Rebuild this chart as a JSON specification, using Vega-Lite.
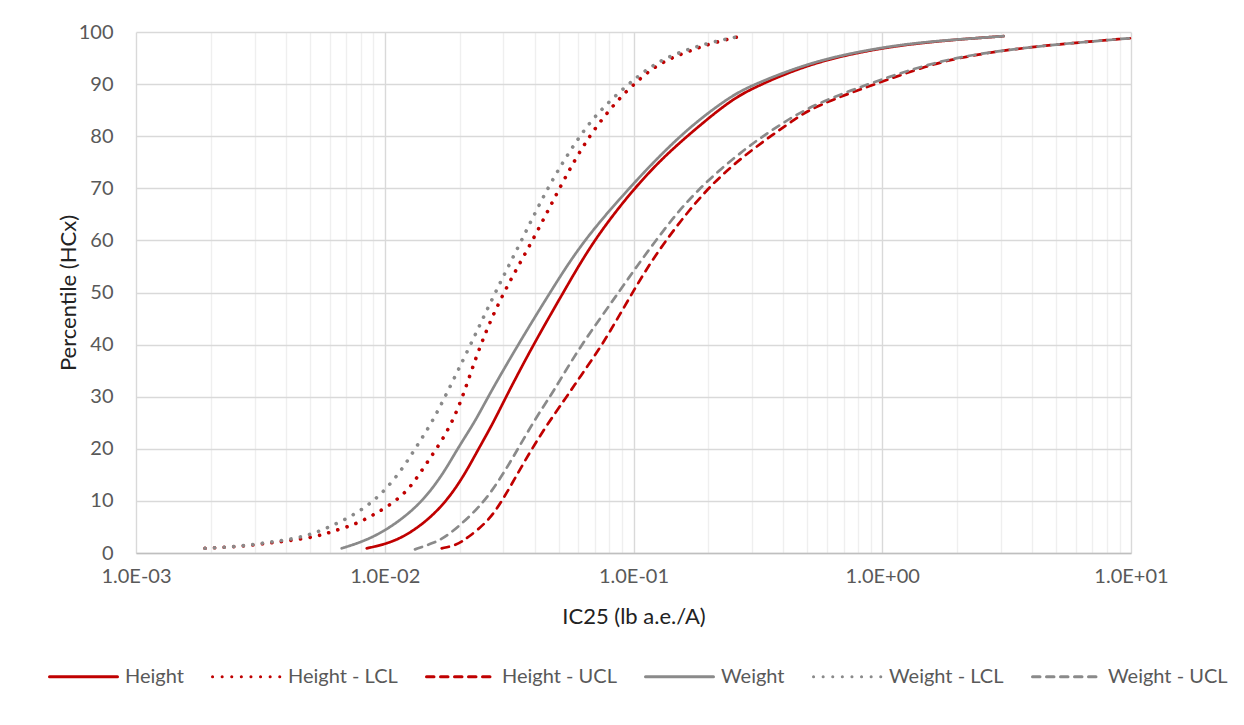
{
  "$schema": "https://vega.github.io/schema/vega-lite/v6.json",
  "width": 995,
  "height": 521,
  "autosize": {"type": "none"},
  "padding": {"left": 136, "top": 32, "right": 113, "bottom": 172},
  "background": "white",
  "config": {"font": "Lato", "view": {"stroke": null}},
  "data": {"values": [
    {"s": "Height", "x": 0.008462, "p": 0.9},
    {"s": "Height", "x": 0.010498, "p": 1.9},
    {"s": "Height", "x": 0.012633, "p": 3.8},
    {"s": "Height", "x": 0.0152, "p": 6.7},
    {"s": "Height", "x": 0.017791, "p": 10.1},
    {"s": "Height", "x": 0.020689, "p": 14.6},
    {"s": "Height", "x": 0.023706, "p": 19.8},
    {"s": "Height", "x": 0.027316, "p": 25},
    {"s": "Height", "x": 0.030724, "p": 30},
    {"s": "Height", "x": 0.039554, "p": 40},
    {"s": "Height", "x": 0.05221, "p": 50},
    {"s": "Height", "x": 0.068931, "p": 60},
    {"s": "Height", "x": 0.099538, "p": 69.8},
    {"s": "Height", "x": 0.13387, "p": 76.3},
    {"s": "Height", "x": 0.18169, "p": 81.8},
    {"s": "Height", "x": 0.24431, "p": 86.8},
    {"s": "Height", "x": 0.3079, "p": 89.5},
    {"s": "Height", "x": 0.53193, "p": 94.3},
    {"s": "Height", "x": 1.0, "p": 97.0},
    {"s": "Height", "x": 1.5095, "p": 98.0},
    {"s": "Height", "x": 2.054, "p": 98.6},
    {"s": "Height", "x": 3.0748, "p": 99.2},
    {"s": "Height - LCL", "x": 0.001894, "p": 0.9},
    {"s": "Height - LCL", "x": 0.002279, "p": 1.1},
    {"s": "Height - LCL", "x": 0.002743, "p": 1.35},
    {"s": "Height - LCL", "x": 0.003332, "p": 1.85},
    {"s": "Height - LCL", "x": 0.004036, "p": 2.3},
    {"s": "Height - LCL", "x": 0.005327, "p": 3.1},
    {"s": "Height - LCL", "x": 0.00641, "p": 4.4},
    {"s": "Height - LCL", "x": 0.007714, "p": 5.6},
    {"s": "Height - LCL", "x": 0.008995, "p": 7.3},
    {"s": "Height - LCL", "x": 0.010665, "p": 9.4},
    {"s": "Height - LCL", "x": 0.012436, "p": 12.1},
    {"s": "Height - LCL", "x": 0.013857, "p": 15.3},
    {"s": "Height - LCL", "x": 0.015299, "p": 18.4},
    {"s": "Height - LCL", "x": 0.016937, "p": 21.5},
    {"s": "Height - LCL", "x": 0.018583, "p": 25},
    {"s": "Height - LCL", "x": 0.020631, "p": 30},
    {"s": "Height - LCL", "x": 0.024149, "p": 40},
    {"s": "Height - LCL", "x": 0.029882, "p": 50},
    {"s": "Height - LCL", "x": 0.039444, "p": 60},
    {"s": "Height - LCL", "x": 0.05064, "p": 70.3},
    {"s": "Height - LCL", "x": 0.065628, "p": 80},
    {"s": "Height - LCL", "x": 0.088236, "p": 87.5},
    {"s": "Height - LCL", "x": 0.10234, "p": 90.3},
    {"s": "Height - LCL", "x": 0.11651, "p": 92.7},
    {"s": "Height - LCL", "x": 0.13802, "p": 94.8},
    {"s": "Height - LCL", "x": 0.16872, "p": 96.4},
    {"s": "Height - LCL", "x": 0.20685, "p": 97.9},
    {"s": "Height - LCL", "x": 0.27555, "p": 99.3},
    {"s": "Height - UCL", "x": 0.016937, "p": 0.9},
    {"s": "Height - UCL", "x": 0.019463, "p": 1.5},
    {"s": "Height - UCL", "x": 0.021351, "p": 2.8},
    {"s": "Height - UCL", "x": 0.026494, "p": 6.3},
    {"s": "Height - UCL", "x": 0.030923, "p": 11.5},
    {"s": "Height - UCL", "x": 0.036054, "p": 17.2},
    {"s": "Height - UCL", "x": 0.043386, "p": 23.6},
    {"s": "Height - UCL", "x": 0.05388, "p": 30},
    {"s": "Height - UCL", "x": 0.060947, "p": 33.8},
    {"s": "Height - UCL", "x": 0.073346, "p": 39.3},
    {"s": "Height - UCL", "x": 0.08503, "p": 44.5},
    {"s": "Height - UCL", "x": 0.09862, "p": 49.8},
    {"s": "Height - UCL", "x": 0.11437, "p": 55},
    {"s": "Height - UCL", "x": 0.13599, "p": 60.2},
    {"s": "Height - UCL", "x": 0.16365, "p": 65.2},
    {"s": "Height - UCL", "x": 0.19694, "p": 69.7},
    {"s": "Height - UCL", "x": 0.24431, "p": 74},
    {"s": "Height - UCL", "x": 0.30225, "p": 77.5},
    {"s": "Height - UCL", "x": 0.36039, "p": 80.2},
    {"s": "Height - UCL", "x": 0.42577, "p": 82.6},
    {"s": "Height - UCL", "x": 0.53193, "p": 85.8},
    {"s": "Height - UCL", "x": 1.0, "p": 90.5},
    {"s": "Height - UCL", "x": 1.5095, "p": 93.5},
    {"s": "Height - UCL", "x": 2.054, "p": 95.1},
    {"s": "Height - UCL", "x": 3.0748, "p": 96.5},
    {"s": "Height - UCL", "x": 5.1826, "p": 97.7},
    {"s": "Height - UCL", "x": 9.9, "p": 98.8},
    {"s": "Weight", "x": 0.006713, "p": 0.9},
    {"s": "Weight", "x": 0.008199, "p": 2.2},
    {"s": "Weight", "x": 0.009867, "p": 4.1},
    {"s": "Weight", "x": 0.011873, "p": 6.7},
    {"s": "Weight", "x": 0.014286, "p": 10.1},
    {"s": "Weight", "x": 0.01719, "p": 15.2},
    {"s": "Weight", "x": 0.019698, "p": 20.2},
    {"s": "Weight", "x": 0.023057, "p": 25.2},
    {"s": "Weight", "x": 0.026008, "p": 30},
    {"s": "Weight", "x": 0.03433, "p": 40},
    {"s": "Weight", "x": 0.046162, "p": 50},
    {"s": "Weight", "x": 0.062664, "p": 60},
    {"s": "Weight", "x": 0.099261, "p": 70.8},
    {"s": "Weight", "x": 0.1302, "p": 76.7},
    {"s": "Weight", "x": 0.17348, "p": 82.3},
    {"s": "Weight", "x": 0.24431, "p": 87.6},
    {"s": "Weight", "x": 0.30225, "p": 89.9},
    {"s": "Weight", "x": 0.53193, "p": 94.5},
    {"s": "Weight", "x": 1.0, "p": 97.1},
    {"s": "Weight", "x": 1.5095, "p": 98.1},
    {"s": "Weight", "x": 2.054, "p": 98.6},
    {"s": "Weight", "x": 3.0748, "p": 99.2},
    {"s": "Weight - LCL", "x": 0.001894, "p": 0.9},
    {"s": "Weight - LCL", "x": 0.002279, "p": 1.1},
    {"s": "Weight - LCL", "x": 0.002743, "p": 1.4},
    {"s": "Weight - LCL", "x": 0.003332, "p": 2.0},
    {"s": "Weight - LCL", "x": 0.004036, "p": 2.5},
    {"s": "Weight - LCL", "x": 0.004857, "p": 3.3},
    {"s": "Weight - LCL", "x": 0.005752, "p": 4.6},
    {"s": "Weight - LCL", "x": 0.006858, "p": 6.3},
    {"s": "Weight - LCL", "x": 0.008079, "p": 8.3},
    {"s": "Weight - LCL", "x": 0.008995, "p": 10},
    {"s": "Weight - LCL", "x": 0.010023, "p": 12.1},
    {"s": "Weight - LCL", "x": 0.011337, "p": 15.1},
    {"s": "Weight - LCL", "x": 0.012633, "p": 18.4},
    {"s": "Weight - LCL", "x": 0.013947, "p": 21.7},
    {"s": "Weight - LCL", "x": 0.015441, "p": 25},
    {"s": "Weight - LCL", "x": 0.017579, "p": 30.2},
    {"s": "Weight - LCL", "x": 0.022155, "p": 40},
    {"s": "Weight - LCL", "x": 0.027749, "p": 50},
    {"s": "Weight - LCL", "x": 0.035524, "p": 60},
    {"s": "Weight - LCL", "x": 0.045441, "p": 70.5},
    {"s": "Weight - LCL", "x": 0.060384, "p": 80},
    {"s": "Weight - LCL", "x": 0.073346, "p": 85},
    {"s": "Weight - LCL", "x": 0.09504, "p": 90},
    {"s": "Weight - LCL", "x": 0.113, "p": 92.8},
    {"s": "Weight - LCL", "x": 0.13178, "p": 94.8},
    {"s": "Weight - LCL", "x": 0.16365, "p": 96.6},
    {"s": "Weight - LCL", "x": 0.20305, "p": 98},
    {"s": "Weight - LCL", "x": 0.27555, "p": 99.3},
    {"s": "Weight - UCL", "x": 0.013231, "p": 0.7},
    {"s": "Weight - UCL", "x": 0.015672, "p": 1.9},
    {"s": "Weight - UCL", "x": 0.017742, "p": 3.1},
    {"s": "Weight - UCL", "x": 0.022697, "p": 7.6},
    {"s": "Weight - UCL", "x": 0.026494, "p": 11.3},
    {"s": "Weight - UCL", "x": 0.030923, "p": 16.3},
    {"s": "Weight - UCL", "x": 0.033919, "p": 19.6},
    {"s": "Weight - UCL", "x": 0.040819, "p": 26.2},
    {"s": "Weight - UCL", "x": 0.046895, "p": 30.5},
    {"s": "Weight - UCL", "x": 0.05064, "p": 33.2},
    {"s": "Weight - UCL", "x": 0.060947, "p": 39.5},
    {"s": "Weight - UCL", "x": 0.073346, "p": 45},
    {"s": "Weight - UCL", "x": 0.088236, "p": 50.4},
    {"s": "Weight - UCL", "x": 0.10301, "p": 55},
    {"s": "Weight - UCL", "x": 0.12396, "p": 60.2},
    {"s": "Weight - UCL", "x": 0.14917, "p": 65.2},
    {"s": "Weight - UCL", "x": 0.17951, "p": 69.4},
    {"s": "Weight - UCL", "x": 0.2227, "p": 73.6},
    {"s": "Weight - UCL", "x": 0.2807, "p": 77.5},
    {"s": "Weight - UCL", "x": 0.32251, "p": 79.6},
    {"s": "Weight - UCL", "x": 0.38804, "p": 82.2},
    {"s": "Weight - UCL", "x": 0.53193, "p": 86.2},
    {"s": "Weight - UCL", "x": 1.0, "p": 91.0},
    {"s": "Weight - UCL", "x": 1.5095, "p": 93.7},
    {"s": "Weight - UCL", "x": 2.054, "p": 95.2},
    {"s": "Weight - UCL", "x": 3.0748, "p": 96.5},
    {"s": "Weight - UCL", "x": 5.1826, "p": 97.7},
    {"s": "Weight - UCL", "x": 9.9, "p": 98.8}
  ]},
  "encoding": {
    "x": {
      "field": "x", "type": "quantitative",
      "scale": {"type": "log", "domain": [0.001, 10], "nice": false},
      "axis": {
        "values": [0.001,0.002,0.003,0.004,0.005,0.006,0.007,0.008,0.009,0.01,0.02,0.03,0.04,0.05,0.06,0.07,0.08,0.09,0.1,0.2,0.3,0.4,0.5,0.6,0.7,0.8,0.9,1,2,3,4,5,6,7,8,9,10],
        "grid": true,
        "gridColor": {"condition": {"test": "abs(log(datum.value)/LN10 - round(log(datum.value)/LN10)) < 0.001", "value": "#d9d9d9"}, "value": "#efefef"},
        "gridWidth": 1.4,
        "ticks": false,
        "domain": true,
        "domainColor": "#bfbfbf",
        "domainWidth": 1.6,
        "labelExpr": "abs(log(datum.value)/LN10 - round(log(datum.value)/LN10)) < 0.001 ? '1.0E' + (round(log(datum.value)/LN10) < 0 ? '-0' : '+0') + abs(round(log(datum.value)/LN10)) : ''",
        "labelOverlap": false,
        "labelFlush": false,
        "labelBound": false,
        "labelFontSize": 20,
        "labelColor": "#595959",
        "labelPadding": 13,
        "title": "IC25 (lb a.e./A)",
        "titleFontSize": 22,
        "titleFontWeight": "normal",
        "titleColor": "#222222",
        "titlePadding": 20
      }
    },
    "y": {
      "field": "p", "type": "quantitative",
      "scale": {"domain": [0, 100], "nice": false},
      "axis": {
        "values": [0,10,20,30,40,50,60,70,80,90,100],
        "grid": true,
        "gridColor": "#d9d9d9",
        "gridWidth": 1.4,
        "ticks": false,
        "domain": false,
        "labelFontSize": 20,
        "labelColor": "#595959",
        "labelPadding": 23,
        "title": "Percentile (HCx)",
        "titleFontSize": 22,
        "titleFontWeight": "normal",
        "titleColor": "#222222",
        "titlePadding": -2
      }
    },
    "color": {
      "field": "s", "type": "nominal",
      "scale": {"domain": ["Height", "Height - LCL", "Height - UCL", "Weight", "Weight - LCL", "Weight - UCL"], "range": ["#c00000", "#c00000", "#c00000", "#8a8a8a", "#8a8a8a", "#8a8a8a"]},
      "legend": {
        "orient": "none", "legendX": -88, "legendY": 609, "direction": "horizontal", "columns": 6,
        "title": null, "symbolType": "stroke", "symbolSize": 4624, "symbolStrokeWidth": 3,
        "labelFontSize": 20, "labelColor": "#595959", "labelOffset": 6, "columnPadding": 22,
        "labelLimit": 300,
        "encode": {"symbols": {"update": {"strokeCap": {"value": "round"}}}}
      }
    },
    "strokeDash": {
      "field": "s", "type": "nominal",
      "scale": {"domain": ["Height", "Height - LCL", "Height - UCL", "Weight", "Weight - LCL", "Weight - UCL"], "range": [[1, 0], [0.1, 9.5], [7.5, 6.5], [1, 0], [0.1, 9.5], [7.5, 6.5]]},
      "legend": {
        "orient": "none", "legendX": -88, "legendY": 609, "direction": "horizontal", "columns": 6,
        "title": null, "symbolType": "stroke", "symbolSize": 4624, "symbolStrokeWidth": 3,
        "labelFontSize": 20, "labelColor": "#595959", "labelOffset": 6, "columnPadding": 22,
        "labelLimit": 300,
        "encode": {"symbols": {"update": {"strokeCap": {"value": "round"}}}}
      }
    }
  },
  "layer": [
    {
      "transform": [{"filter": "indexof(datum.s, 'LCL') < 0"}],
      "mark": {"type": "line", "strokeWidth": 2.7, "strokeCap": "round", "interpolate": "basis"}
    },
    {
      "transform": [{"filter": "indexof(datum.s, 'LCL') >= 0"}],
      "mark": {"type": "line", "strokeWidth": 3.6, "strokeCap": "round", "interpolate": "basis"}
    }
  ]
}
